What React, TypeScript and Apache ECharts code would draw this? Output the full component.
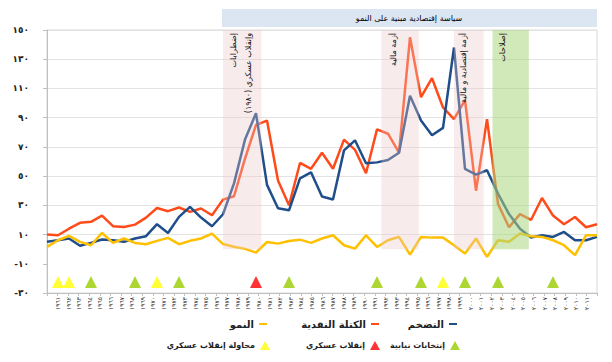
import React, { useEffect, useRef } from 'react';
import * as echarts from 'echarts';

const years = [
  1961, 1962, 1963, 1964, 1965, 1966, 1967, 1968, 1969, 1970,
  1971, 1972, 1973, 1974, 1975, 1976, 1977, 1978, 1979, 1980,
  1981, 1982, 1983, 1984, 1985, 1986, 1987, 1988, 1989, 1990,
  1991, 1992, 1993, 1994, 1995, 1996, 1997, 1998, 1999, 2000,
  2001, 2002, 2003, 2004, 2005, 2006, 2007, 2008, 2009, 2010, 2011,
];

const inflation = [
  5, 6.1, 7.3, 2.3, 4.3, 6.6, 6.1, 5, 7.3, 8.9,
  17.1, 11.1, 22.1, 28.9, 21.6, 15.7, 23.9, 45, 75, 93,
  44, 28, 26.6, 48.5, 52.6, 36, 34, 67.6, 74.5, 58.8,
  59.4, 61, 66, 105, 88, 78, 83, 138, 55, 51,
  54, 38, 24, 14, 8, 9.5, 8.4, 11.8, 6.1, 6.1, 8.4,
];

const moneySupply = [
  10, 9.5, 14, 18, 18.7, 23, 15.7, 15.2, 16.8, 21.6,
  28.2, 26, 28.5, 25.5, 27.8, 23.2, 33.9, 36.2, 62, 85,
  88, 47, 30, 59, 55, 66, 55, 75, 68, 52,
  82, 79, 66, 145, 104, 117, 97, 89, 102, 40,
  89, 31, 15, 24, 20, 35, 23, 17, 22, 15, 17,
];

const growth = [
  1.6, 6.1, 9.1, 5.0, 2.7, 11.1, 4.3, 7.3, 4.3, 3.4,
  5.7, 7.7, 3.4, 5.7, 7.3, 10.7, 3.5, 1.6, 0.2, -2.3,
  4.9, 3.8, 5.6, 6.5, 4.3, 7.3, 9.5, 2.7, 0.4, 9.5,
  1.5, 6.1, 8.4, -3.7, 8.4, 7.9, 7.9, 2.7, -3.0, 7.3,
  -5.3, 6.1, 5.0, 10.7, 8.8, 8.4, 6.1, 2.7, -4.1, 9.5, 9.5,
];

const electionYears = [1965, 1969, 1973, 1983, 1991, 1995, 1999, 2002, 2007];
const coupAttemptYears = [1962, 1963, 1971, 1997];
const coupYears = [1980];

// shaded periods [from, to] in years
const unrestPeriod = [1977, 1980.5];
const financialCrisisPeriod = [1991.4, 1994.8];
const economicCrisisPeriod = [1998, 2000.7];
const reformPeriod = [2001.5, 2004.8];

// tick labels of the category axis (blank at both ends)
const yearTickLabels = ['', ...years.map(String), ''];

const NAME_INF = 'التضخم';
const NAME_MONEY = 'الكتلة النقدية';
const NAME_GROWTH = 'النمو';
const NAME_ELECTION = 'إنتخابات نيابية';
const NAME_COUP = 'إنقلاب عسكري';
const NAME_ATTEMPT = 'محاولة إنقلاب عسكري';

const BLUE = '#1F4E8A';
const RED = '#FF4B1A';
const YELLOW = '#FFC000';
const TRI_GREEN = '#99CC00';
const TRI_RED = '#FF0000';
const TRI_YELLOW = '#FFFF00';
const PINK = 'rgba(235,198,198,0.35)';
const GREEN_AREA = 'rgba(171,213,125,0.55)';
const FONT = 'DejaVu Sans';
const TRI_Y = -22.5;

const toArabic = (s: string) => s.replace(/\d/g, (d) => '٠١٢٣٤٥٦٧٨٩'[Number(d)]);

export default function App() {
  const ref = useRef<HTMLDivElement>(null);
  useEffect(() => {
    if (!ref.current) return;
    const chart = echarts.init(ref.current, undefined, { renderer: 'svg' });
    const area = (p: number[], color: string) => [
      { xAxis: p[0], yAxis: 150, itemStyle: { color } },
      { xAxis: p[1], yAxis: 0 },
    ];
    const rotText = (x: number, y: number, text: string) => ({
      type: 'text',
      x,
      y,
      rotation: Math.PI / 2,
      z: 100,
      silent: true,
      style: {
        text,
        fill: '#111',
        font: `8px "${FONT}"`,
        align: 'right',
        verticalAlign: 'middle',
      },
    });
    const legendText = (size: number) => ({
      fontSize: size,
      fontWeight: 'bold' as const,
      color: '#222',
      fontFamily: FONT,
    });
    chart.setOption({
      animation: false,
      grid: {
        left: 47,
        right: 15,
        top: 30,
        bottom: 69,
        show: true,
        borderColor: '#D9D9D9',
        borderWidth: 1,
      },
      xAxis: [
        { type: 'value', min: 1961, max: 2011, show: false },
        {
          type: 'category',
          data: yearTickLabels,
          boundaryGap: false,
          position: 'bottom',
          axisLine: { onZero: true, lineStyle: { color: '#BFBFBF' } },
          axisTick: { show: true, length: 3, lineStyle: { color: '#BFBFBF' } },
          splitLine: { show: false },
          axisLabel: {
            interval: 0,
            rotate: 90,
            fontSize: 6,
            color: '#222',
            fontFamily: FONT,
            margin: 4,
            formatter: (v: string) => toArabic(v),
          },
        },
      ],
      yAxis: {
        type: 'value',
        min: -30,
        max: 150,
        interval: 20,
        axisLine: { show: true, lineStyle: { color: '#BFBFBF' } },
        axisTick: { show: true, length: 4, lineStyle: { color: '#BFBFBF' } },
        splitLine: {
          lineStyle: {
            color: ['rgba(0,0,0,0)', 'rgba(0,0,0,0)', '#E3E3E3', '#E3E3E3', '#E3E3E3', '#E3E3E3', '#E3E3E3', '#E3E3E3', '#E3E3E3', '#E3E3E3'],
          },
        },
        axisLabel: {
          formatter: (v: number) => toArabic(String(v)),
          fontSize: 9,
          fontWeight: 'bold',
          color: '#222',
          fontFamily: FONT,
          margin: 18,
        },
      },
      legend: [
        { data: [{ name: NAME_INF, icon: 'rect' }], right: 150, top: 314, itemWidth: 8, itemHeight: 2, align: 'right', textStyle: legendText(10), selectedMode: false },
        { data: [{ name: NAME_MONEY, icon: 'rect' }], right: 228, top: 314, itemWidth: 8, itemHeight: 2, align: 'right', textStyle: legendText(10), selectedMode: false },
        { data: [{ name: NAME_GROWTH, icon: 'rect' }], right: 340, top: 314, itemWidth: 8, itemHeight: 2, align: 'right', textStyle: legendText(10), selectedMode: false },
        { data: [{ name: NAME_ELECTION, icon: 'triangle' }], right: 147, top: 336, itemWidth: 10, itemHeight: 9, align: 'right', textStyle: legendText(8), selectedMode: false },
        { data: [{ name: NAME_COUP, icon: 'triangle' }], right: 227, top: 336, itemWidth: 10, itemHeight: 9, align: 'right', textStyle: legendText(8), selectedMode: false },
        { data: [{ name: NAME_ATTEMPT, icon: 'triangle' }], right: 337, top: 336, itemWidth: 10, itemHeight: 9, align: 'right', textStyle: legendText(8), selectedMode: false },
      ],
      graphic: [
        { type: 'rect', silent: true, shape: { x: 222, y: 9, width: 375, height: 18 }, style: { fill: '#DCE6F2' } },
        {
          type: 'text',
          x: 409,
          y: 18,
          silent: true,
          style: {
            text: 'سياسة إقتصادية مبنية على النمو',
            fill: '#000',
            font: `8px "${FONT}"`,
            align: 'center',
            verticalAlign: 'middle',
          },
        },
        rotText(233, 33, 'إضطرابات'),
        rotText(248, 33, 'وإنقلاب عسكري (١٩٨٠)\u200F'),
        rotText(393, 33, 'أزمة مالية'),
        rotText(463, 33, 'أزمة إقتصادية و مالية'),
        rotText(502, 33, 'إصلاحات'),
      ],
      series: [
        {
          name: NAME_MONEY,
          type: 'line',
          xAxisIndex: 0,
          data: years.map((y, i) => [y, moneySupply[i]]),
          symbol: 'none',
          lineStyle: { color: RED, width: 2.5 },
          itemStyle: { color: RED },
          z: 3,
        },
        {
          name: NAME_INF,
          type: 'line',
          xAxisIndex: 0,
          data: years.map((y, i) => [y, inflation[i]]),
          symbol: 'none',
          lineStyle: { color: BLUE, width: 2.5 },
          itemStyle: { color: BLUE },
          z: 4,
        },
        {
          name: NAME_GROWTH,
          type: 'line',
          xAxisIndex: 0,
          data: years.map((y, i) => [y, growth[i]]),
          symbol: 'none',
          lineStyle: { color: YELLOW, width: 2.5 },
          itemStyle: { color: YELLOW },
          z: 5,
        },
        {
          name: 'regions',
          type: 'line',
          xAxisIndex: 0,
          data: [],
          z: 10,
          markArea: {
            silent: true,
            z: 10,
            data: [
              area(unrestPeriod, PINK),
              area(financialCrisisPeriod, PINK),
              area(economicCrisisPeriod, PINK),
              area(reformPeriod, GREEN_AREA),
            ],
          },
        },
        {
          name: NAME_ELECTION,
          type: 'scatter',
          xAxisIndex: 0,
          symbol: 'triangle',
          symbolSize: [12, 12],
          itemStyle: { color: TRI_GREEN },
          data: electionYears.map((y) => [y, TRI_Y]),
          z: 6,
        },
        {
          name: NAME_COUP,
          type: 'scatter',
          xAxisIndex: 0,
          symbol: 'triangle',
          symbolSize: [12, 12],
          itemStyle: { color: TRI_RED },
          data: coupYears.map((y) => [y, TRI_Y]),
          z: 6,
        },
        {
          name: NAME_ATTEMPT,
          type: 'scatter',
          xAxisIndex: 0,
          symbol: 'triangle',
          symbolSize: [12, 12],
          itemStyle: { color: TRI_YELLOW },
          data: coupAttemptYears.map((y) => [y, TRI_Y]),
          z: 6,
        },
      ],
    });
    return () => chart.dispose();
  }, []);
  return (
    <div
      ref={ref}
      style={{ position: 'fixed', left: 0, top: 0, width: 612, height: 362, background: '#fff' }}
    />
  );
}
